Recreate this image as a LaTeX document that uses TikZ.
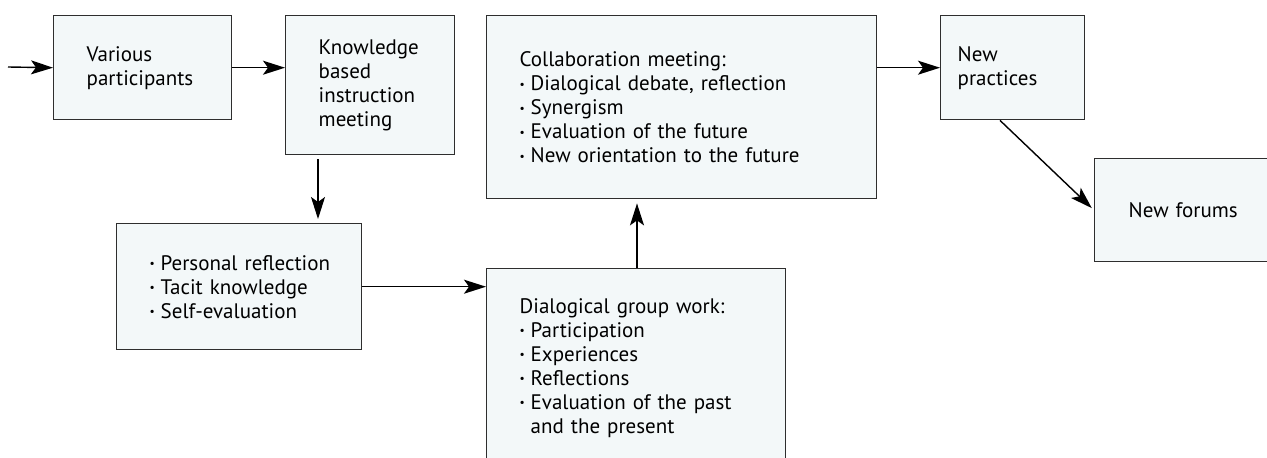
\documentclass[tikz,border=0pt]{standalone}
\usepackage{fontspec}
\setmainfont{PT Sans}
\usetikzlibrary{arrows.meta}
\definecolor{boxfill}{HTML}{F3F8F9}
\definecolor{boxline}{HTML}{2E2E2E}
\newcommand{\bul}{\makebox[11pt][l]{\raisebox{0.12em}{\scalebox{0.55}{•}}}}
\newcommand{\li}[1]{\mbox{\bul #1}}
\begin{document}
\begin{tikzpicture}[x=1pt,y=-1pt,
  every node/.style={font=\fontsize{21}{24}\selectfont},
  flowbox/.style={draw=boxline, fill=boxfill, line width=1.4pt, rectangle,
    anchor=north west, align=left, inner ysep=0pt},
  arr/.style={-{Stealth[length=22pt,width=14pt,inset=5pt]}, line width=1.4pt, draw=black}]
\useasboundingbox (0,0) rectangle (1267,458);
\clip (0,0) rectangle (1267,458);
\node[flowbox, minimum width=178pt, minimum height=104pt, text width=112pt, inner xsep=33pt] (vp) at (53,15)
  {Various\\participants};
\node[flowbox, minimum width=169pt, minimum height=139pt, text width=103pt, inner xsep=33pt] (kb) at (285,15)
  {Knowledge\\based\\instruction\\meeting};
\node[flowbox, minimum width=390pt, minimum height=183pt, text width=324pt, inner xsep=33pt] (cm) at (486,15)
  {Collaboration meeting:\\\li{Dialogical debate, reflection}\\\li{Synergism}\\\li{Evaluation of the future}\\\li{New orientation to the future}};
\node[flowbox, minimum width=144pt, minimum height=104pt, text width=110pt, inner xsep=17pt] (np) at (940,15)
  {New\\practices};
\node[flowbox, minimum width=190pt, minimum height=103pt, text width=122pt, inner xsep=34pt] (nf) at (1094,158)
  {New forums};
\node[flowbox, minimum width=245pt, minimum height=126pt, text width=179pt, inner xsep=33pt] (pr) at (116,223)
  {\li{Personal reflection}\\\li{Tacit knowledge}\\\li{Self-evaluation}};
\node[flowbox, minimum width=299pt, minimum height=198pt, text width=233pt, inner xsep=33pt] (dg) at (486,268)
  {Dialogical group work:\\\li{Participation}\\\li{Experiences}\\\li{Reflections}\\\li{Evaluation of the past}\\\hspace*{11pt}and the present};
\coordinate (in) at (8,67);
\draw[arr] (in) -- (vp.west);
\draw[arr] (vp.east) -- (vp.east -| kb.west);
\draw[arr, shorten <=4pt, shorten >=4pt] ([xshift=33pt]kb.south west) -- ([xshift=33pt]kb.south west |- pr.north);
\draw[arr] (pr.east) -- (pr.east -| dg.west);
\draw[arr, shorten >=4pt] (dg.north -| 637,0) -- (cm.south -| 637,0);
\draw[arr] (np.west -| cm.east) -- (np.west);
\draw[arr, shorten >=3pt] ([xshift=60pt]np.south west) -- (nf.west);
\end{tikzpicture}
\end{document}
